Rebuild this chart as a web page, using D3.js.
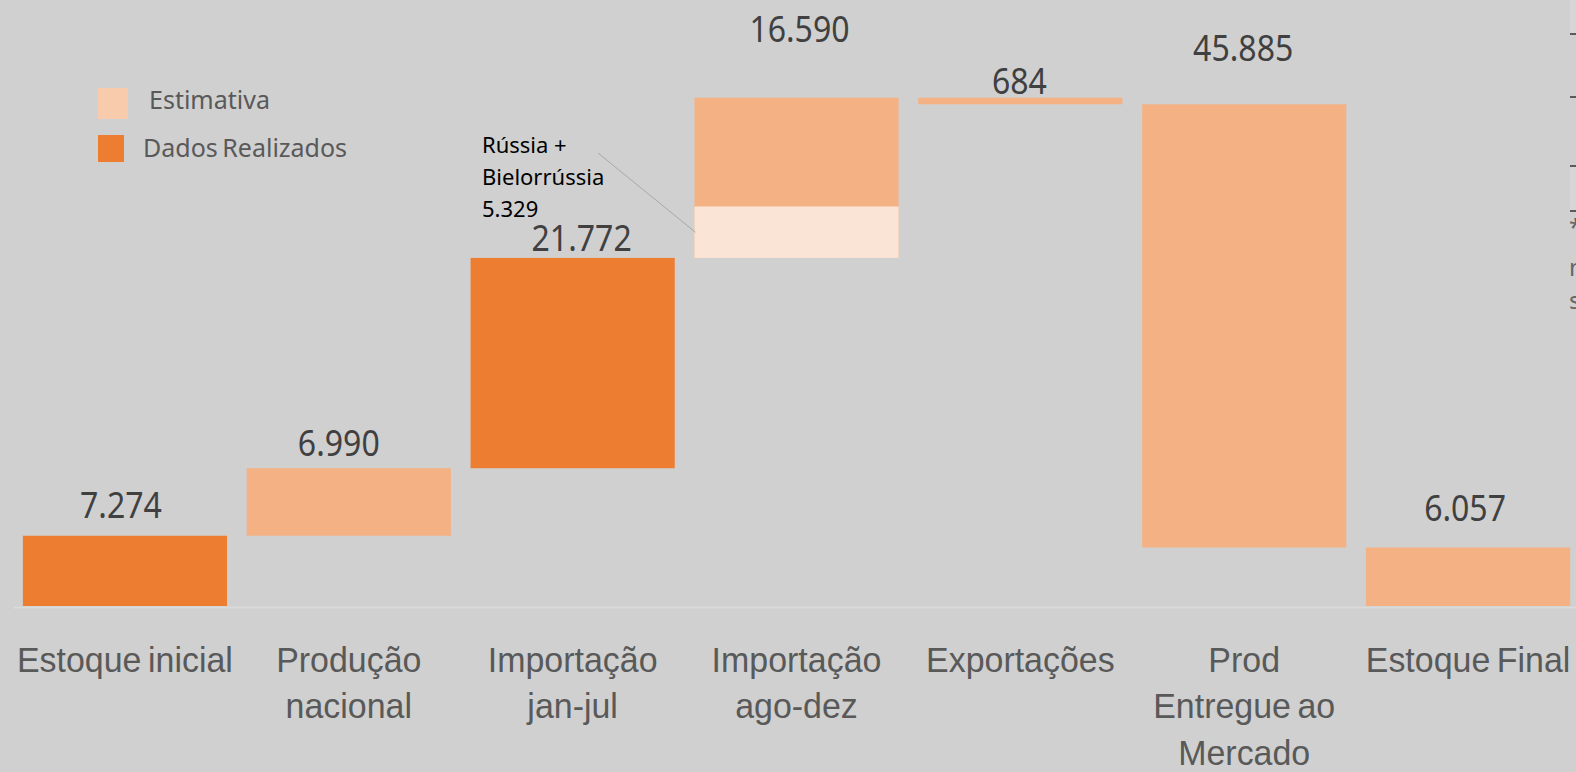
<!DOCTYPE html>
<html>
<head>
<meta charset="utf-8">
<script src="https://cdn.jsdelivr.net/npm/d3@7"></script>
<style>
  html, body { margin: 0; padding: 0; background: #d0d0d0; }
  svg { display: block; font-family: "Noto Sans", "Open Sans", sans-serif; }
</style>
</head>
<body>
<svg width="1576" height="772"></svg>
<script>
// Chart data (waterfall, toneladas).
const categories = ["Estoque inicial", "Produção nacional", "Importação jan-jul", "Importação ago-dez",
  "Exportações", "Prod Entregue ao Mercado", "Estoque Final"];
const tickLines = [["Estoque inicial"], ["Produção", "nacional"], ["Importação", "jan-jul"],
  ["Importação", "ago-dez"], ["Exportações"], ["Prod", "Entregue ao", "Mercado"], ["Estoque Final"]];
const values = [7274, 6990, 21772, 16590, -684, -45885, 6057];
const kinds = ["total", "delta", "delta", "delta", "delta", "delta", "total"];
const status = ["real", "est", "real", "est", "est", "est", "est"];
const russiaValue = 5329;           // part of "Importação ago-dez"
const legendItems = ["Estimativa", "Dados Realizados"];

// Label nudges (hand placed in the original)
const labelGap = [18, 12, 7, 56, 4, 43, 26];
const labelShift = [-4, -10, 9, 3, -1, -1, -3];

const width = 1576, height = 772;
const baseY = 606;

const svg = d3.select("svg");

const fmt = d3.formatLocale({decimal: ",", thousands: ".", grouping: [3], currency: ["R$", ""]}).format(",d");

// Running totals for the waterfall.
let running = 0;
const bars = values.map((v, i) => {
  let y0, y1;
  if (kinds[i] === "total") { y0 = 0; y1 = v; running = v; }
  else { y0 = running; y1 = running + v; running += v; }
  return {cat: categories[i], v, y0, y1, status: status[i], i};
});

const x = d3.scaleBand()
  .domain(categories)
  .range([13, 1580])
  .paddingInner(0.088)
  .paddingOuter(0.044);

const y = d3.scaleLinear()
  .domain([0, 62740])
  .range([baseY, 0]);

const colors = {real: "#ed7d31", est: "#f4b183"};

// Axis first so bars sit on top of the base line.
const axis = svg.append("g")
  .attr("transform", `translate(0,${baseY + 1})`)
  .call(d3.axisBottom(x).tickSize(0).tickSizeOuter(0));

axis.select(".domain").attr("stroke", "#dadada").attr("stroke-width", 2);

axis.selectAll(".tick text")
  .attr("y", 0).attr("dy", null)
  .attr("fill", "#595959")
  .style("font-size", "35px")
  .style("word-spacing", "-3px")
  .attr("transform", "scale(0.97,1)")
  .each(function (d, i) {
    const t = d3.select(this).text(null);
    tickLines[i].forEach((line, j) => {
      t.append("tspan").attr("x", 0).attr("y", 65 + j * 46.5).text(line);
    });
  });

// Bars.
svg.append("g").selectAll("rect")
  .data(bars)
  .join("rect")
  .attr("x", d => x(d.cat))
  .attr("width", x.bandwidth())
  .attr("y", d => y(Math.max(d.y0, d.y1)))
  .attr("height", d => Math.abs(y(d.y0) - y(d.y1)))
  .attr("fill", d => colors[d.status]);

// Russia + Belarus portion of the ago-dez import.
const ago = bars[3];
svg.append("rect")
  .attr("x", x(ago.cat))
  .attr("width", x.bandwidth())
  .attr("y", y(ago.y0 + russiaValue))
  .attr("height", y(ago.y0) - y(ago.y0 + russiaValue))
  .attr("fill", "#fae4d5");

// Value labels.
svg.append("g").selectAll("g")
  .data(bars)
  .join("g")
  .attr("transform", d => `translate(${x(d.cat) + x.bandwidth() / 2 + labelShift[d.i]},${y(Math.max(d.y0, d.y1)) - labelGap[d.i]})`)
  .append("text")
  .attr("text-anchor", "middle")
  .attr("transform", "scale(0.89,1)")
  .attr("fill", "#404040")
  .style("font-size", "36px")
  .text(d => fmt(Math.abs(d.v)));

// Annotation for Russia + Belarus.
const ann = svg.append("text")
  .attr("x", 482)
  .attr("fill", "#000")
  .style("font-size", "22px");
["Rússia +", "Bielorrússia", fmt(russiaValue)].forEach((s, j) => {
  ann.append("tspan").attr("x", 482).attr("y", 153 + j * 32).text(s);
});
svg.append("line")
  .attr("x1", 598).attr("y1", 153)
  .attr("x2", x(ago.cat) + 1).attr("y2", (y(ago.y0) + y(ago.y0 + russiaValue)) / 2)
  .attr("stroke", "#a8a8a8")
  .attr("stroke-width", 1);

// Legend.
const legend = svg.append("g");
legend.append("rect").attr("x", 98).attr("y", 88).attr("width", 30).attr("height", 31).attr("fill", "#f8cbad");
legend.append("rect").attr("x", 98).attr("y", 135).attr("width", 26).attr("height", 27).attr("fill", colors.real);
legend.append("text").attr("x", 149).attr("y", 109).text(legendItems[0]);
legend.append("text").attr("x", 143).attr("y", 157).style("word-spacing", "-2px").text(legendItems[1]);
legend.selectAll("text").attr("fill", "#595959").style("font-size", "25px");

// Cropped edge of a neighbouring table at the right border.
const edge = svg.append("g");
edge.append("rect").attr("x", 1570).attr("y", 0).attr("width", 6).attr("height", 34).attr("fill", "#d6d6d6");
edge.append("rect").attr("x", 1570).attr("y", 166).attr("width", 6).attr("height", 45).attr("fill", "#d6d6d6");
[34, 97, 166, 211].forEach(v => {
  edge.append("line").attr("x1", 1570).attr("x2", 1576).attr("y1", v).attr("y2", v)
    .attr("stroke", "#333").attr("stroke-width", 1.5);
});
edge.append("text").attr("x", 1569).attr("y", 236).text("*");
edge.append("text").attr("x", 1569).attr("y", 276).text("n");
edge.append("text").attr("x", 1569).attr("y", 309).text("s");
edge.selectAll("text").attr("fill", "#666").style("font-size", "24px");
</script>
</body>
</html>
